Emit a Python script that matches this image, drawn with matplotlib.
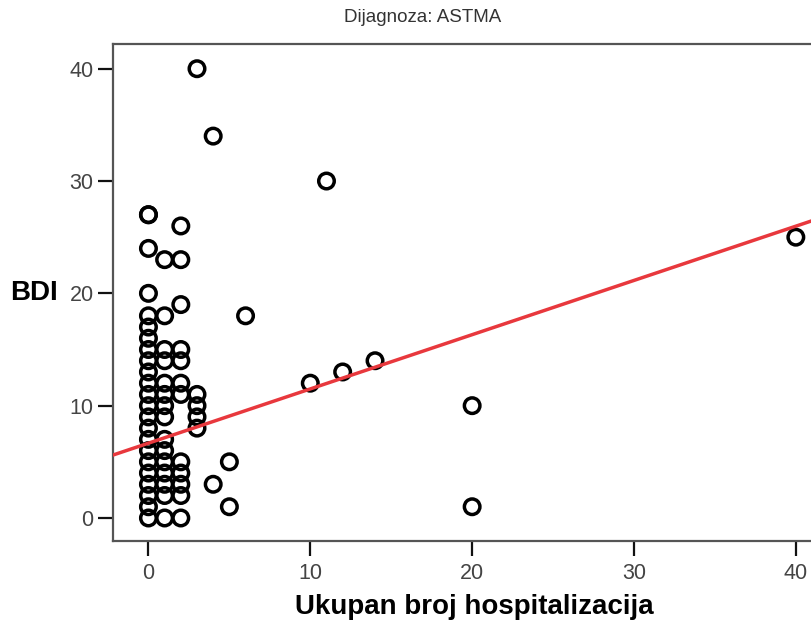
import numpy as np
import matplotlib
matplotlib.use('Agg')
import matplotlib.pyplot as plt

# data (x = hospitalizations, y = BDI)
x0_bdi = [0, 1, 2, 3, 4, 5, 6, 7, 8, 9, 10, 11, 12, 13, 14, 15, 16, 17, 18, 20, 24, 27, 27]
x1_bdi = [0, 2, 3, 4, 5, 6, 7, 9, 10, 11, 12, 14, 15, 18, 23]
x2_bdi = [0, 2, 3, 4, 5, 11, 12, 14, 15, 19, 23, 26]
x3_bdi = [8, 9, 10, 11, 40]
other_x = [4, 4, 5, 5, 6, 10, 11, 12, 14, 20, 20, 40]
other_bdi = [3, 34, 1, 5, 18, 12, 30, 13, 14, 10, 1, 25]

# fit line as drawn in the chart
fit_intercept = 6.66
fit_slope = 0.483

hosp = np.array([0] * len(x0_bdi) + [1] * len(x1_bdi) + [2] * len(x2_bdi)
                + [3] * len(x3_bdi) + other_x, dtype=float)
bdi = np.array(x0_bdi + x1_bdi + x2_bdi + x3_bdi + other_bdi, dtype=float)

xticks = [0, 10, 20, 30, 40]
yticks = [0, 10, 20, 30, 40]

narrow = ['Liberation Sans Narrow', 'Liberation Sans', 'DejaVu Sans']

fig = plt.figure(figsize=(8.12, 6.23), dpi=100)
ax = fig.add_axes([113 / 812, 1 - 541 / 623, 1 - 113 / 812 + 0.01, (541 - 44) / 623])

ax.scatter(hosp, bdi, s=125, facecolors='none', edgecolors='black', linewidths=2.5, zorder=3)

xl = np.array([-3, 45])
ax.plot(xl, fit_intercept + fit_slope * xl, color='#e8383d', lw=2.5, zorder=4)

ax.set_xlim(-2.19, 41.5)
ax.set_ylim(-2.05, 42.2)
ax.set_xticks(xticks)
ax.set_yticks(yticks)
ax.set_xticklabels([str(t) for t in xticks], family=narrow, fontsize=15.5, color='#444444')
ax.set_yticklabels([str(t) for t in yticks], family=narrow, fontsize=15.5, color='#444444')
ax.tick_params(axis='both', direction='out', length=11, width=1.6, color='#111111')
ax.tick_params(axis='y', pad=3)
ax.tick_params(axis='x', pad=5)

for s in ['left', 'top', 'bottom', 'right']:
    ax.spines[s].set_color('#555555')
    ax.spines[s].set_linewidth(1.6)

fig.text(423 / 812, 1 - 18 / 623, 'Dijagnoza: ASTMA', ha='center', va='center',
         family=narrow, fontsize=13.5, color='#333333')
fig.text(34 / 812, 1 - 293 / 623, 'BDI', ha='center', va='center',
         family=['Liberation Sans', 'DejaVu Sans'], fontsize=20, fontweight='bold')
fig.text(474 / 812, 1 - 607 / 623, 'Ukupan broj hospitalizacija', ha='center', va='center',
         family=narrow, fontsize=20, fontweight='bold')

fig.savefig('out.png', dpi=100)
